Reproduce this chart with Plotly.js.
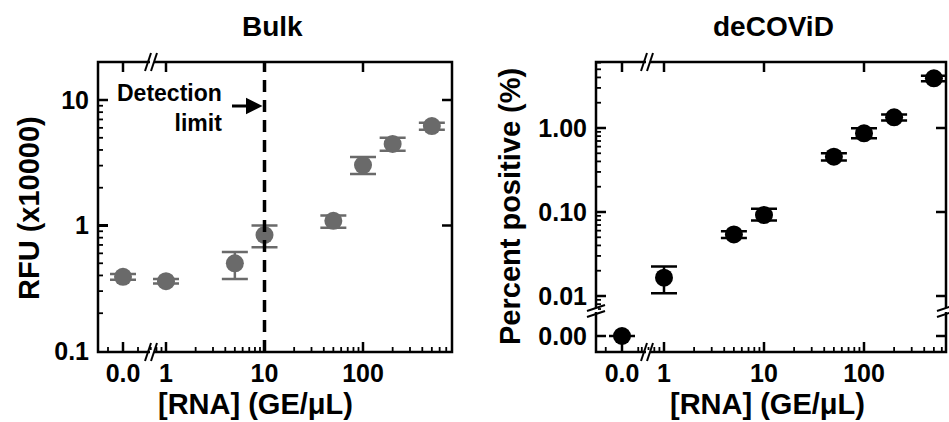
<!DOCTYPE html>
<html>
<head>
<meta charset="utf-8">
<script src="https://cdn.plot.ly/plotly-3.0.1.min.js"></script>
<style>html,body{margin:0;padding:0;background:#fff;}#chart{width:949px;height:422px;}</style>
</head>
<body>
<div id="chart"></div>
<script>
// ---- data ----
const rnaConc = [0, 1, 5, 10, 50, 100, 200, 500];   // GE/uL (0 drawn on broken segment)
const bulkRFU = [0.39, 0.36, 0.50, 0.84, 1.09, 3.03, 4.46, 6.2];
const bulkErrPlus = [0.02, 0.015, 0.115, 0.16, 0.11, 0.49, 0.54, 0.4];
const bulkErrMinus = [0.02, 0.015, 0.125, 0.17, 0.13, 0.46, 0.51, 0.4];
const decovidPct = [0, 0.0165, 0.054, 0.092, 0.456, 0.865, 1.34, 3.9];
const decovidErrPlus = [0, 0.006, 0.005, 0.017, 0.045, 0.13, 0.11, 0.3];
const decovidErrMinus = [0, 0.0057, 0.005, 0.013, 0.045, 0.11, 0.11, 0.3];
const detectionLimit = 10;
const xTickVals = [1, 10, 100];
const xTickText = ['1', '10', '100'];
const bulkYTickVals = [0.1, 1, 10];
const bulkYTickText = ['0.1', '1', '10'];
const decYTickVals = [0.01, 0.1, 1];
const decYTickText = ['0.01', '0.10', '1.00'];

// ---- geometry helpers (pixel -> paper) ----
const W = 949, H = 422;
const px = v => v / W;
const py = v => 1 - v / H;

function logMinor(lo, hi) {
  const out = [];
  for (let e = -3; e <= 3; e++) for (let m = 2; m <= 9; m++) {
    const v = m * Math.pow(10, e);
    if (v > lo && v < hi) out.push(v);
  }
  return out;
}

const FONT = 'Liberation Sans, Arial, sans-serif';
const tickFont = {family: FONT, size: 25, color: '#000', weight: 'bold'};
const base = {
  showgrid: false, zeroline: false, showline: false,
  ticks: 'inside', ticklen: 10, tickwidth: 2.5, tickcolor: '#000',
  tickfont: tickFont, tickmode: 'array'
};
function ax(o) { return Object.assign({}, base, o); }

// Split data into broken (x=0) and log parts
const iz = rnaConc.map((v, i) => i).filter(i => rnaConc[i] === 0);
const il = rnaConc.map((v, i) => i).filter(i => rnaConc[i] > 0);
const pick = (arr, idx) => idx.map(i => arr[i]);

const grey = '#6a6a6a';
function trace(xs, ys, ep, em, xa, ya, color) {
  return {
    type: 'scatter', mode: 'markers', x: xs, y: ys, xaxis: xa, yaxis: ya,
    marker: {size: 18, color: color},
    error_y: {type: 'data', symmetric: false, array: ep, arrayminus: em,
              color: color, thickness: 2.5, width: 13},
    showlegend: false, hoverinfo: 'x+y'
  };
}

const traces = [
  trace(pick(rnaConc, iz), pick(bulkRFU, iz), pick(bulkErrPlus, iz), pick(bulkErrMinus, iz), 'x', 'y', grey),
  trace(pick(rnaConc, il), pick(bulkRFU, il), pick(bulkErrPlus, il), pick(bulkErrMinus, il), 'x2', 'y', grey),
  trace(pick(rnaConc, iz), pick(decovidPct, iz), pick(decovidErrPlus, iz), pick(decovidErrMinus, iz), 'x5', 'y4', '#000'),
  trace(pick(rnaConc, il), pick(decovidPct, il), pick(decovidErrPlus, il), pick(decovidErrMinus, il), 'x6', 'y3', '#000')
];

// panel pixel geometry
const L = {x0: 98, xb: 152, x1: 452, y0: 62, y1: 352};
const R = {x0: 596, xb: 648, x1: 946, y0: 62, yb: 310, y1: 352};

const linRangeL = [-1.0, 1.16];
const logRangeL = [-(166 - 152) / 98.5, (452 - 166) / 98.5];
const yRangeL = [-1 - 1 / 125.5, 1 + 38 / 125.5];
const linRangeR = [-1.04, 1.04];
const logRangeR = [-(664 - 648) / 100, (946 - 664) / 100];
const yLogRangeR = [-(310 - 128) / 84, (128 - 62) / 84];
const yLinRangeR = [-0.8, 0.8 * 26 / 16];

const layout = {
  width: W, height: H,
  margin: {l: 0, r: 0, t: 0, b: 0},
  paper_bgcolor: '#fff',
  font: {family: FONT, color: '#000', weight: 'bold'},
  showlegend: false,
  // ----- Bulk panel -----
  xaxis: ax({domain: [px(L.x0), px(L.xb)], range: linRangeL, anchor: 'y',
    tickvals: [0], ticktext: ['0.0'], ticklabelstandoff: 4}),
  xaxis2: ax({type: 'log', domain: [px(L.xb), px(L.x1)], range: logRangeL, anchor: 'y',
    tickvals: xTickVals, ticktext: xTickText, ticklabelstandoff: 4}),
  yaxis: ax({type: 'log', domain: [py(L.y1), py(L.y0)], range: yRangeL, anchor: 'x',
    tickvals: bulkYTickVals, ticktext: bulkYTickText, ticklabelstandoff: 8}),
  // ----- deCOViD panel -----
  xaxis5: ax({domain: [px(R.x0), px(R.xb)], range: linRangeR, anchor: 'y4',
    tickvals: [0], ticktext: ['0.0'], ticklabelstandoff: 4}),
  xaxis6: ax({type: 'log', domain: [px(R.xb), px(R.x1)], range: logRangeR, anchor: 'y4',
    tickvals: xTickVals, ticktext: xTickText, ticklabelstandoff: 4}),
  yaxis3: ax({type: 'log', domain: [py(R.yb), py(R.y0)], range: yLogRangeR, anchor: 'x5',
    tickvals: decYTickVals, ticktext: decYTickText, ticklabelstandoff: 8}),
  yaxis4: ax({domain: [py(R.y1), py(R.yb)], range: yLinRangeR, anchor: 'x5',
    tickvals: [0], ticktext: ['0.00'], ticklabelstandoff: 8}),
  shapes: [],
  annotations: []
};

const S = layout.shapes;
const line = (x0, y0, x1, y1, w, c) => S.push({type: 'line', xref: 'paper', yref: 'paper',
  x0: px(x0), y0: py(y0), x1: px(x1), y1: py(y1), line: {color: c || '#000', width: w || 2}, layer: 'above'});

// ---- tick marks, placed with the same scale as each axis segment ----
const MAJ = 10, MIN = 5;
function mapX(seg, v) { const u = seg.log ? Math.log10(v) : v; return seg.p0 + (u - seg.range[0]) / (seg.range[1] - seg.range[0]) * (seg.p1 - seg.p0); }
function mapY(seg, v) { const u = seg.log ? Math.log10(v) : v; return seg.pb - (u - seg.range[0]) / (seg.range[1] - seg.range[0]) * (seg.pb - seg.pt); }
function xTicksP(seg, vals, yEdge, dir, len) {
  vals.forEach(v => { const X = mapX(seg, v); line(X, yEdge, X, yEdge + dir * len, len === MAJ ? 2.5 : 1.8); });
}
function yTicksP(seg, vals, xEdge, dir, len) {
  vals.forEach(v => { const Y = mapY(seg, v); line(xEdge, Y, xEdge + dir * len, Y, len === MAJ ? 2.5 : 1.8); });
}
const LxLin = {p0: L.x0, p1: L.xb, range: linRangeL, log: false};
const LxLog = {p0: L.xb, p1: L.x1, range: logRangeL, log: true};
const LyLog = {pb: L.y1, pt: L.y0, range: yRangeL, log: true};
const RxLin = {p0: R.x0, p1: R.xb, range: linRangeR, log: false};
const RxLog = {p0: R.xb, p1: R.x1, range: logRangeR, log: true};
const RyLog = {pb: R.yb, pt: R.y0, range: yLogRangeR, log: true};
const RyLin = {pb: R.y1, pt: R.yb, range: yLinRangeR, log: false};

// Bulk
xTicksP(LxLin, [0], L.y1, -1, MAJ);
xTicksP(LxLin, [-0.6, 0.6], L.y1, -1, MIN);
xTicksP(LxLin, [0], L.y0, 1, MAJ);
xTicksP(LxLog, xTickVals, L.y1, -1, MAJ);
xTicksP(LxLog, logMinor(0.7, 800), L.y1, -1, MIN);
xTicksP(LxLog, xTickVals, L.y0, 1, MAJ);
yTicksP(LyLog, [1, 10], L.x0, 1, MAJ);
yTicksP(LyLog, logMinor(0.1, 20), L.x0, 1, MIN);
yTicksP(LyLog, [1, 10], L.x1, -1, MAJ);
// deCOViD
xTicksP(RxLin, [0], R.y1, -1, MAJ);
xTicksP(RxLin, [-0.65, 0.65], R.y1, -1, MIN);
xTicksP(RxLin, [0], R.y0, 1, MAJ);
xTicksP(RxLog, xTickVals, R.y1, -1, MAJ);
xTicksP(RxLog, logMinor(0.6, 700), R.y1, -1, MIN);
xTicksP(RxLog, xTickVals, R.y0, 1, MAJ);
yTicksP(RyLog, decYTickVals, R.x0, 1, MAJ);
yTicksP(RyLog, logMinor(0.006, 7), R.x0, 1, MIN);
yTicksP(RyLog, decYTickVals, R.x1, -1, MAJ);
yTicksP(RyLin, [0], R.x0, 1, MAJ);
yTicksP(RyLin, [0], R.x1, -1, MAJ);

// frames
[L, R].forEach(p => S.push({type: 'rect', xref: 'paper', yref: 'paper', x0: px(p.x0), x1: px(p.x1),
  y0: py(p.y1), y1: py(p.y0), line: {color: '#000', width: 2.5}, fillcolor: 'rgba(0,0,0,0)', layer: 'above'}));
// axis breaks "//"
function xBreak(x, y) {
  S.push({type: 'rect', xref: 'paper', yref: 'paper', x0: px(x - 2), x1: px(x + 2), y0: py(y + 2), y1: py(y - 2),
    line: {width: 0}, fillcolor: '#fff', layer: 'above'});
  line(x - 7, y + 9, x - 1, y - 9, 2);
  line(x - 1, y + 9, x + 5, y - 9, 2);
}
function yBreak(x, y) {
  S.push({type: 'rect', xref: 'paper', yref: 'paper', x0: px(x - 2), x1: px(x + 2), y0: py(y + 2), y1: py(y - 2),
    line: {width: 0}, fillcolor: '#fff', layer: 'above'});
  line(x - 9, y + 1, x + 9, y - 5, 2);
  line(x - 9, y + 7, x + 9, y + 1, 2);
}
xBreak(L.xb, L.y0); xBreak(L.xb, L.y1);
xBreak(R.xb, R.y0); xBreak(R.xb, R.y1);
yBreak(R.x0, R.yb); yBreak(R.x1, R.yb);

// detection-limit dashed line
S.push({type: 'line', xref: 'x2', yref: 'y domain', x0: detectionLimit, x1: detectionLimit, y0: 0, y1: 1,
  line: {color: '#000', width: 3.5, dash: '12px,8px'}, layer: 'above'});

const A = layout.annotations;
const titleFont = {family: FONT, size: 28, color: '#000', weight: 'bold'};
const axTitleFont = {family: FONT, size: 29, color: '#000', weight: 'bold'};
const ann = o => A.push(Object.assign({xref: 'paper', yref: 'paper', xanchor: 'center', yanchor: 'middle', showarrow: false}, o));
ann({text: 'Bulk', x: px(272), y: py(27), font: titleFont});
ann({text: 'deCOViD', x: px(773), y: py(27), font: titleFont});
ann({text: '[RNA] (GE/μL)', x: px(255), y: py(404), font: axTitleFont});
ann({text: '[RNA] (GE/μL)', x: px(767), y: py(404), font: axTitleFont});
ann({text: 'RFU (x10000)', x: px(29), y: py(208), textangle: -90, font: axTitleFont});
ann({text: 'Percent positive (%)', x: px(510), y: py(207), textangle: -90, font: axTitleFont});
ann({text: 'Detection<br>limit', x: px(224), y: py(108), xanchor: 'right', align: 'right',
  font: {family: FONT, size: 23, color: '#000', weight: 'bold'}});
A.push({text: '', xref: 'x2', yref: 'y', x: Math.log10(detectionLimit), y: 0.952, ax: -34, ay: 0,
  showarrow: true, arrowhead: 2, arrowsize: 1.1, arrowwidth: 3, arrowcolor: '#000', standoff: 2});

Plotly.newPlot('chart', traces, layout, {displayModeBar: false, staticPlot: true});
</script>
</body>
</html>
